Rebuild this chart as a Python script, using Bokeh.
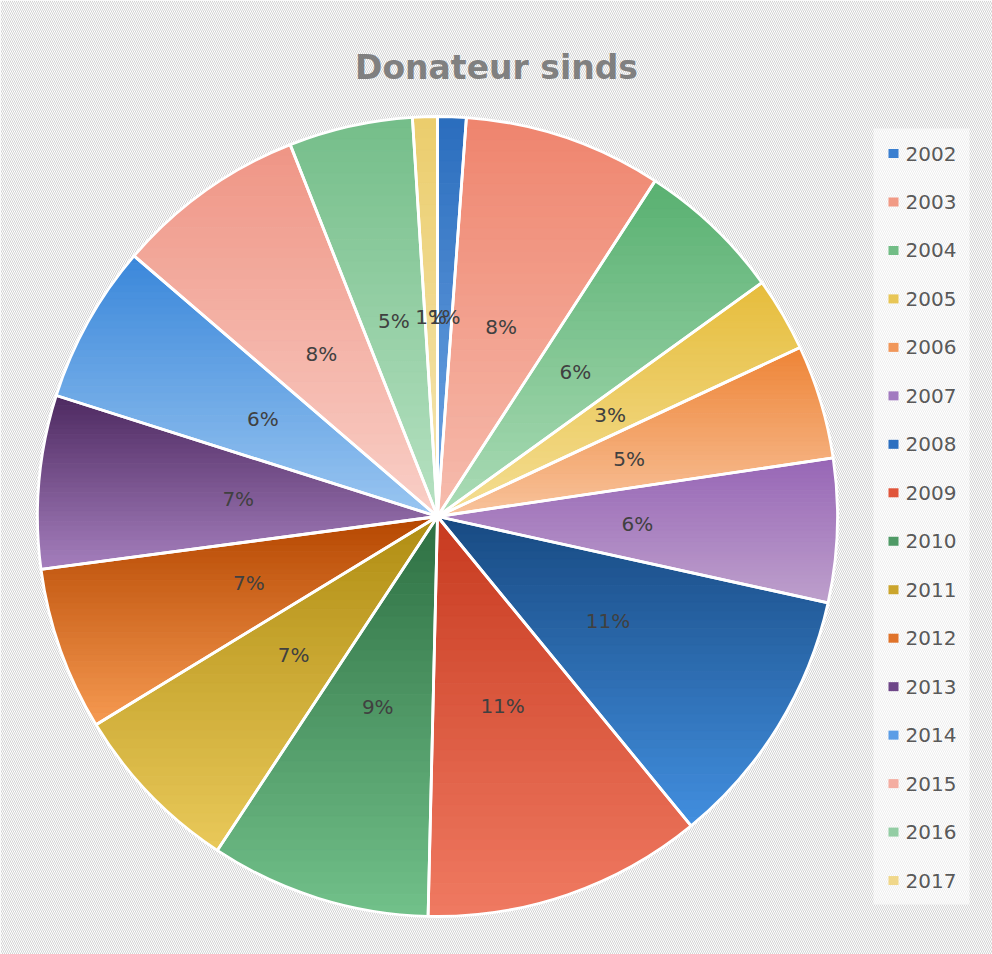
import math
from bokeh.plotting import figure
from bokeh.models import Range1d
from bokeh.core.properties import value
from bokeh.embed import file_html
from bokeh.resources import INLINE

# ---------------- data ----------------
title_text = "Donateur sinds"
years = ["2002", "2003", "2004", "2005", "2006", "2007", "2008", "2009",
         "2010", "2011", "2012", "2013", "2014", "2015", "2016", "2017"]
shares = [1.15, 8.0, 5.9, 3.0, 4.6, 5.8, 10.6, 11.3,
          8.9, 7.0, 6.6, 7.0, 6.4, 7.7, 5.0, 1.0]

# gradient colours per slice (top -> bottom)
top_colors = ["#2a6dbd", "#ef846d", "#58b070", "#e6bd3c", "#ee8436", "#9766b6",
              "#184a82", "#c73a1f", "#2d6f42", "#b08d12", "#b54700", "#4d2960",
              "#3a87da", "#ef9585", "#74bd89", "#ebcd6c"]
bottom_colors = ["#72a8e6", "#f6bcae", "#acdcb7", "#f4de94", "#f8c39c", "#bea0cc",
                 "#428fdf", "#f07a62", "#72c18a", "#e9c95a", "#f69a52", "#a57fbd",
                 "#9ac6f1", "#f9cfc7", "#b7e2c2", "#f5e6b4"]
legend_colors = ["#3a7fd0", "#f19a85", "#72bd86", "#e8c656", "#f1975a", "#a27ac0",
                 "#2c6fc0", "#e0553a", "#4f9a66", "#cba52c", "#e0732a", "#6e4688",
                 "#5b9de6", "#f4ada1", "#93cda4", "#f0d78a"]

# ---------------- layout ----------------
W, H = 992, 954
CX, CY = 437, 516          # pie centre from figure's top-left (pixels)
R = 400
LABEL_R = 0.5 * R

p = figure(width=W, height=H, output_backend="svg", toolbar_location=None,
           x_range=Range1d(-CX, W - CX), y_range=Range1d(-(H - CY), CY),
           x_axis_location=None, y_axis_location=None, title=None,
           min_border=0, min_border_left=0, min_border_right=0,
           min_border_top=0, min_border_bottom=0)
p.grid.visible = False
p.outline_line_color = None
p.background_fill_color = "white"
p.border_fill_color = "white"

# striped background
p.quad(left=-CX, right=W - CX, bottom=-(H - CY), top=CY, fill_color="white",
       line_color=None, hatch_pattern="\\", hatch_color="#d2d2d2",
       hatch_scale=4, hatch_weight=1)


def hex2rgb(h):
    h = h.lstrip("#")
    return tuple(int(h[i:i + 2], 16) for i in (0, 2, 4))


def lerp(c0, c1, t):
    a, b = hex2rgb(c0), hex2rgb(c1)
    return "#%02x%02x%02x" % tuple(int(round(a[k] + (b[k] - a[k]) * t)) for k in range(3))


def clip_poly(poly, inside, inter):
    out = []
    n = len(poly)
    for k in range(n):
        cur, prev = poly[k], poly[k - 1]
        if inside(cur):
            if not inside(prev):
                out.append(inter(prev, cur))
            out.append(cur)
        elif inside(prev):
            out.append(inter(prev, cur))
    return out


def ix(pa, pb, yc):
    t = (yc - pa[1]) / (pb[1] - pa[1])
    return (pa[0] + t * (pb[0] - pa[0]), yc)


total = sum(shares)
fracs = [s / total for s in shares]
starts, ends = [], []
acc = 0.0
for f in fracs:
    starts.append(acc * 2 * math.pi)
    acc += f
    ends.append(acc * 2 * math.pi)

# gradient-filled slices (horizontal bands of each wedge)
NSTRIP = 36
for i in range(len(years)):
    a0, a1 = starts[i], ends[i]
    npts = max(8, int((a1 - a0) / (2 * math.pi) * 720))
    poly = [(0.0, 0.0)] + [(R * math.sin(a0 + (a1 - a0) * k / npts),
                            R * math.cos(a0 + (a1 - a0) * k / npts)) for k in range(npts + 1)]
    ymin = min(q[1] for q in poly)
    ymax = max(q[1] for q in poly)
    step = (ymax - ymin) / NSTRIP
    xs_list, ys_list, cols = [], [], []
    for s in range(NSTRIP):
        yhi = ymax - s * step
        ylo = yhi - step - 0.6
        pc = clip_poly(poly, lambda q: q[1] >= ylo, lambda pa, pb: ix(pa, pb, ylo))
        if pc:
            pc = clip_poly(pc, lambda q: q[1] <= yhi, lambda pa, pb: ix(pa, pb, yhi))
        if len(pc) < 3:
            continue
        t = (s + 0.5) / NSTRIP
        xs_list.append([q[0] for q in pc])
        ys_list.append([q[1] for q in pc])
        cols.append(lerp(top_colors[i], bottom_colors[i], t))
    p.patches(xs=xs_list, ys=ys_list, fill_color=cols, line_color=cols, line_width=0.6)

# white slice borders
p.wedge(x=0, y=0, radius=R,
        start_angle=[math.pi / 2 - a for a in starts],
        end_angle=[math.pi / 2 - a for a in ends],
        direction="clock", fill_color=None, line_color="white", line_width=2.8)

# percentage labels
mids = [(a + b) / 2 for a, b in zip(starts, ends)]
p.text(x=[LABEL_R * math.sin(m) for m in mids], y=[LABEL_R * math.cos(m) for m in mids],
       text=["%d%%" % round(f * 100) for f in fracs],
       text_align="center", text_baseline="middle", text_color="#404040",
       text_font=value("DejaVu Sans"), text_font_size="20px")

# title
p.text(x=[59], y=[449], text=[title_text], text_align="center",
       text_baseline="alphabetic", text_color="#808080",
       text_font=value("DejaVu Sans"), text_font_style="bold", text_font_size="33px")

# legend (manual)
LEG_X0, LEG_X1 = 436, 532
LEG_TOP, LEG_BOT = 388, -388
p.quad(left=LEG_X0, right=LEG_X1, bottom=LEG_BOT, top=LEG_TOP,
       fill_color="white", fill_alpha=0.6, line_color=None)
ROW0 = 516 - 153
ROWSTEP = 48.47
rows_y = [ROW0 - ROWSTEP * k for k in range(len(years))]
p.rect(x=[456] * len(years), y=rows_y, width=10, height=9,
       fill_color=legend_colors, line_color=None)
p.text(x=[468] * len(years), y=rows_y, text=years, text_align="left",
       text_baseline="middle", text_color="#595959",
       text_font=value("DejaVu Sans"), text_font_size="20px")

open("out.html", "w").write(file_html(p, INLINE))
